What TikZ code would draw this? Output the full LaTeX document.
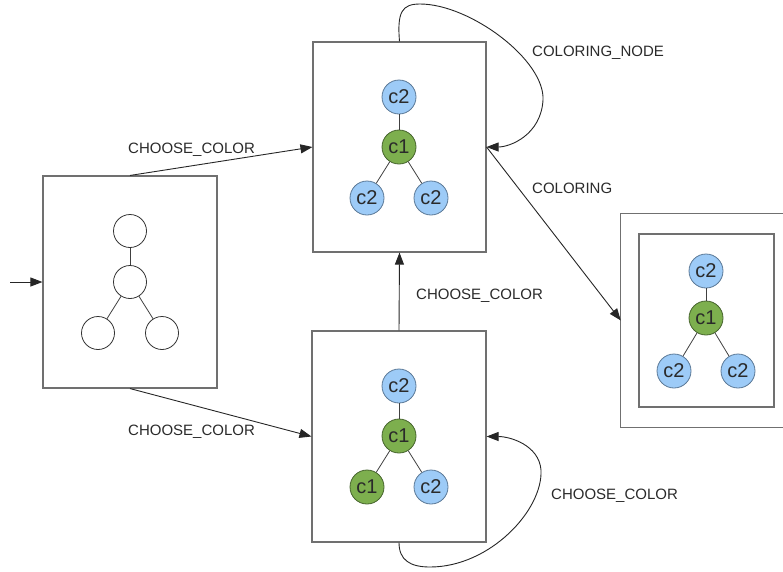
\documentclass[tikz,border=0pt]{standalone}
\usepackage{fontspec}
\setmainfont{Liberation Sans}
\usetikzlibrary{arrows.meta}
\definecolor{boxgray}{HTML}{707070}
\definecolor{bluefill}{HTML}{9DCBF7}
\definecolor{blueline}{HTML}{5A7896}
\definecolor{greenfill}{HTML}{7DAF4E}
\definecolor{greenline}{HTML}{45632C}
\definecolor{txt}{HTML}{2A2A2A}
\tikzset{
  statebox/.style={draw=boxgray, line width=1.1pt, rectangle, inner sep=0pt, fill=none},
  boxline/.style={draw=boxgray, line width=1.1pt},
  emptyc/.style={circle, draw=black!80, line width=0.8pt, minimum size=33pt, inner sep=0pt},
  cblue/.style={circle, draw=blueline, fill=bluefill, line width=0.8pt, minimum size=34pt, inner sep=0pt, font=\fontsize{20}{20}\selectfont, text=txt},
  cgreen/.style={circle, draw=greenline, fill=greenfill, line width=0.8pt, minimum size=34pt, inner sep=0pt, font=\fontsize{20}{20}\selectfont, text=txt},
  treeedge/.style={draw=black!75, line width=0.8pt},
  trans/.style={draw=black!85, line width=0.9pt, -{Triangle[length=12pt,width=9pt]}},
  lbl/.style={anchor=west, font=\fontsize{15}{15}\selectfont, text=txt, inner sep=0pt}
}
\begin{document}
\begin{tikzpicture}[x=1pt, y=-1pt]
\useasboundingbox (0,0) rectangle (783,571);
\clip (0,0) rectangle (783,571);
% state boxes
\node[statebox, minimum width=174pt, minimum height=212pt] (A) at (130,282) {};
\node[statebox, minimum width=173pt, minimum height=210pt] (B) at (399.5,147) {};
\node[statebox, minimum width=174pt, minimum height=211pt] (C) at (399,436.5) {};
\node[rectangle, inner sep=0pt, minimum width=219pt, minimum height=213pt] (D) at (730.5,320.5) {};
\draw[boxline] (D.north east) -- (D.north west) -- (D.south west) -- (D.south east);
\node[statebox, minimum width=135pt, minimum height=173pt] (Di) at (706.5,320.5) {};
\coordinate (start) at (10,282);

% tree A (empty)
\node[emptyc] (a1) at (130,231) {};
\node[emptyc] (a2) at (130,282) {};
\node[emptyc] (a3) at (98,333) {};
\node[emptyc] (a4) at (162,333) {};
\draw[treeedge] (a1) -- (a2);
\draw[treeedge] (a2) -- (a3);
\draw[treeedge] (a2) -- (a4);

% tree B
\node[cblue] (b1) at (399,97) {c2};
\node[cgreen] (b2) at (399,147) {c1};
\node[cblue] (b3) at (367,198) {c2};
\node[cblue] (b4) at (431,198) {c2};
\draw[treeedge] (b1) -- (b2);
\draw[treeedge] (b2) -- (b3);
\draw[treeedge] (b2) -- (b4);

% tree C
\node[cblue] (c1) at (399,386) {c2};
\node[cgreen] (c2) at (399,436) {c1};
\node[cgreen] (c3) at (367,487) {c1};
\node[cblue] (c4) at (431,487) {c2};
\draw[treeedge] (c1) -- (c2);
\draw[treeedge] (c2) -- (c3);
\draw[treeedge] (c2) -- (c4);

% tree D
\node[cblue] (d1) at (706,271) {c2};
\node[cgreen] (d2) at (706,318) {c1};
\node[cblue] (d3) at (674,371) {c2};
\node[cblue] (d4) at (738,371) {c2};
\draw[treeedge] (d1) -- (d2);
\draw[treeedge] (d2) -- (d3);
\draw[treeedge] (d2) -- (d4);

% transitions
\draw[trans] (start) -- (A.west);
\draw[trans] (A.north) -- (B.west);
\draw[trans] (A.south) -- (C.west);
\draw[trans] (C.north) -- (B.south);
\draw[trans] (B.east) -- (D.west);
\draw[trans] (B.north) .. controls (397,12) and (402,4) .. (420,4)
  .. controls (470,4) and (545,60) .. (543,100)
  .. controls (541,135) and (510,147) .. (B.east);
\draw[trans] (C.south) .. controls (399,560) and (410,567) .. (430,567)
  .. controls (490,567) and (543,510) .. (541,470)
  .. controls (539,445) and (510,436.5) .. (C.east);

% labels
\node[lbl] (l1) at (128,150) {CHOOSE\_COLOR};
\node[lbl] (l2) at (128,432) {CHOOSE\_COLOR};
\node[lbl] (l3) at (416,296) {CHOOSE\_COLOR};
\node[lbl] (l4) at (551,496) {CHOOSE\_COLOR};
\node[lbl] (l5) at (532,53) {COLORING\_NODE};
\node[lbl] (l6) at (532,188) {COLORING};
\end{tikzpicture}
\end{document}
